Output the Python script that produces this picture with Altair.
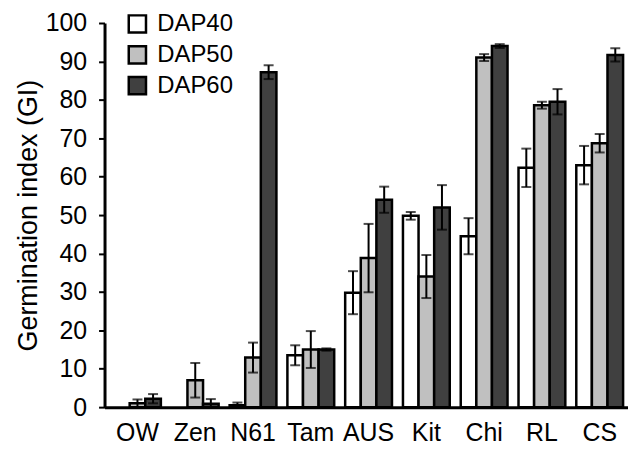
import altair as alt
import pandas as pd

categories = ["OW", "Zen", "N61", "Tam", "AUS", "Kit", "Chi", "RL", "CS"]
series = ["DAP40", "DAP50", "DAP60"]
colors = ["#ffffff", "#c0c0c0", "#404040"]
y_ticks = [0, 10, 20, 30, 40, 50, 60, 70, 80, 90, 100]

dap40 = [0.0, 0.0, 0.5, 13.5, 29.8, 49.8, 44.5, 62.3, 63.0]
dap40_err = [0.0, 0.0, 0.7, 2.6, 5.6, 1.0, 4.7, 5.0, 5.0]
dap50 = [1.0, 7.0, 12.9, 15.0, 38.8, 34.0, 91.0, 78.6, 68.7]
dap50_err = [1.0, 4.5, 3.9, 4.8, 8.9, 5.6, 0.9, 0.9, 2.4]
dap60 = [2.2, 0.9, 87.2, 15.0, 54.0, 52.0, 94.0, 79.5, 91.7]
dap60_err = [1.2, 1.2, 1.8, 0.3, 3.4, 5.8, 0.5, 3.3, 1.7]

rows = []
for s, vals, errs in zip(series, [dap40, dap50, dap60], [dap40_err, dap50_err, dap60_err]):
    for c, v, e in zip(categories, vals, errs):
        if v <= 0:
            continue
        rows.append(dict(cat=c, series=s, value=v, lo=max(v - e, 0), hi=v + e))
df = pd.DataFrame(rows)

FONT = "Liberation Sans"

x = alt.X("cat:N", sort=categories,
          scale=alt.Scale(paddingInner=0.19, paddingOuter=0.125, align=0.66),
          axis=alt.Axis(title=None, ticks=False, labelAngle=0, labelPadding=14,
                        labelFontSize=25, labelFont=FONT, labelColor="black",
                        domainColor="black", domainWidth=3))
xo = alt.XOffset("series:N", sort=series, scale=alt.Scale(paddingInner=0, paddingOuter=0))
yscale = alt.Scale(domain=[0, 100], nice=False)
yaxis = alt.Axis(values=y_ticks, grid=False, labelOverlap=False,
                 domainColor="black", domainWidth=3,
                 tickColor="black", tickWidth=2, tickSize=6,
                 labelFontSize=25, labelFont=FONT, labelColor="black",
                 labelPadding=12,
                 title="Germination index (GI)", titleFontSize=27,
                 titleFont=FONT, titleFontWeight="normal",
                 titleColor="black", titlePadding=3)

base = alt.Chart(df)

bars = base.mark_bar(stroke="black", strokeWidth=2.5).encode(
    x=x, xOffset=xo,
    y=alt.Y("value:Q", scale=yscale, axis=yaxis),
    color=alt.Color("series:N", sort=series,
                    scale=alt.Scale(domain=series, range=colors),
                    legend=alt.Legend(orient="none", legendX=21, legendY=-11,
                                      title=None, symbolType="square",
                                      symbolSize=300, symbolStrokeColor="black",
                                      symbolStrokeWidth=2.5, symbolOpacity=1,
                                      labelFontSize=24, labelFont=FONT,
                                      labelColor="black", rowPadding=3,
                                      labelOffset=8)),
)

rules = base.mark_rule(color="black", strokeWidth=2).encode(
    x=x, xOffset=xo, y=alt.Y("lo:Q", scale=yscale, axis=yaxis), y2="hi:Q")
cap_hi = base.mark_tick(color="black", thickness=2, size=10).encode(
    x=x, xOffset=xo, y=alt.Y("hi:Q", scale=yscale, axis=yaxis))
cap_lo = base.mark_tick(color="black", thickness=2, size=10).encode(
    x=x, xOffset=xo, y=alt.Y("lo:Q", scale=yscale, axis=yaxis))

chart = alt.layer(bars, rules, cap_hi, cap_lo).properties(
    width=526, height=386,
    autosize=alt.AutoSizeParams(type="none"),
    padding={"left": 97, "top": 14, "right": 0, "bottom": 45},
).configure_view(stroke=None)

chart.save("out.html", embed_options={"renderer": "svg", "actions": False})
